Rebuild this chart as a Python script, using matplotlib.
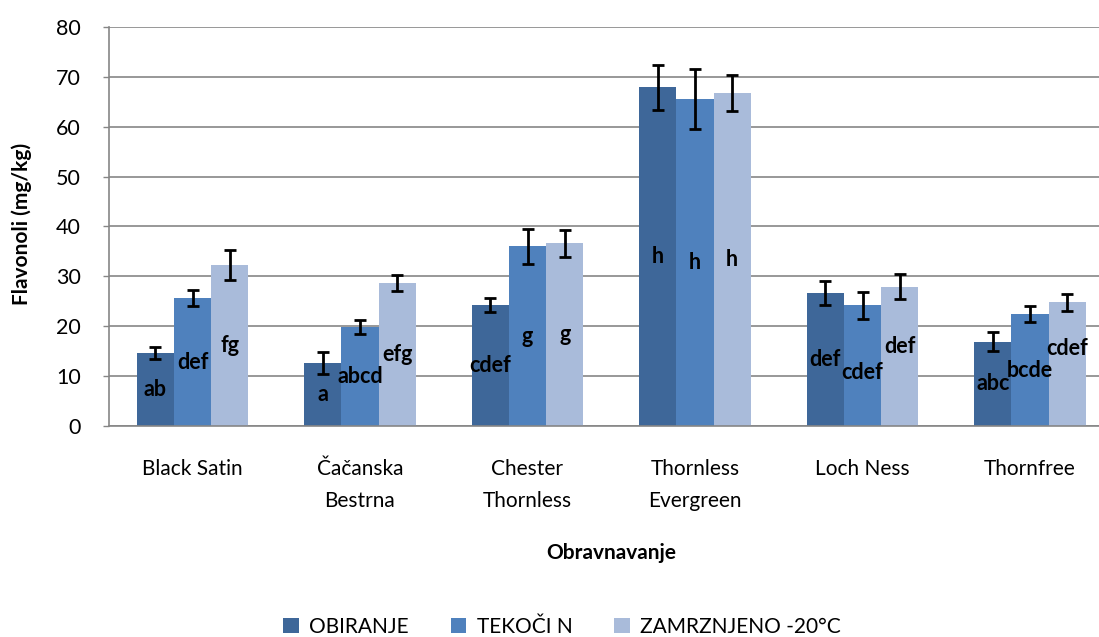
import numpy as np
import matplotlib
matplotlib.use("Agg")
import matplotlib.pyplot as plt
from matplotlib.patches import Patch

plt.rcParams['font.family'] = ['Lato', 'DejaVu Sans']

categories = ["Black Satin", "Čačanska\nBestrna", "Chester\nThornless",
              "Thornless\nEvergreen", "Loch Ness", "Thornfree"]
series = ["OBIRANJE", "TEKOČI N", "ZAMRZNJENO -20°C"]

obiranje = [14.6, 12.6, 24.2, 67.9, 26.6, 16.9]
tekoci = [25.6, 19.8, 36.0, 65.6, 24.2, 22.4]
zamrz = [32.3, 28.6, 36.6, 66.8, 27.9, 24.8]

obiranje_err = [1.2, 2.2, 1.4, 4.5, 2.4, 1.9]
tekoci_err = [1.6, 1.4, 3.5, 6.0, 2.7, 1.6]
zamrz_err = [3.0, 1.6, 2.7, 3.6, 2.5, 1.75]

obiranje_lbl = ["ab", "a", "cdef", "h", "def", "abc"]
tekoci_lbl = ["def", "abcd", "g", "h", "cdef", "bcde"]
zamrz_lbl = ["fg", "efg", "g", "h", "def", "cdef"]

colors = ["#3E6799", "#4F81BD", "#A9BBDA"]

W, H = 1099, 637
fig = plt.figure(figsize=(W / 100, H / 100), dpi=100)
# plot area runs a little past the right edge of the canvas
ax = fig.add_axes([108.75 / W, 211 / H, 1005 / W, 399 / H])

x = np.arange(len(categories))
bw = 1 / 4.5  # three bars plus a 150% gap per category
values = [obiranje, tekoci, zamrz]
errs = [obiranje_err, tekoci_err, zamrz_err]
labels = [obiranje_lbl, tekoci_lbl, zamrz_lbl]
# nudge (in data units) for letter labels that would collide with a neighbour
nudges = [[0, 0, 0, 0, 0, 0],
          [0, 0, 0, 0, -1.4, 0],
          [0, 0, 0, 0, 2.0, 3.2]]

for i, (vals, err, lbl, nd) in enumerate(zip(values, errs, labels, nudges)):
    pos = x + (i - 1) * bw
    ax.bar(pos, vals, width=bw, color=colors[i], zorder=2)
    ax.errorbar(pos, vals, yerr=err, fmt="none", ecolor="black",
                elinewidth=2.0, capsize=4.3, capthick=2.0, zorder=3)
    for p, v, t, d in zip(pos, vals, lbl, nd):
        ax.text(p, v / 2 + d, t, ha="center", va="center", fontsize=15.5,
                fontweight="bold", color="black", zorder=4)

ax.set_xlim(-0.5, len(categories) - 0.5)
ax.set_ylim(0, 80)
ax.set_yticks(np.arange(0, 81, 10))
ax.yaxis.grid(True, color="#868686", linewidth=1.2, zorder=0)
ax.set_axisbelow(True)

ax.set_xticks(x)
ax.set_xticklabels(categories, fontsize=15, linespacing=1.7)
ax.tick_params(axis="x", length=0, pad=24)
ax.tick_params(axis="y", labelsize=15.5, length=4, width=1, color="#868686", pad=16)

for s in ["top", "right"]:
    ax.spines[s].set_visible(False)
for s in ["left", "bottom"]:
    ax.spines[s].set_color("#868686")
    ax.spines[s].set_linewidth(1.2)

fig.text(22 / W, 1 - 224 / H, "Flavonoli (mg/kg)", rotation=90, ha="center",
         va="center", fontsize=15, fontweight="bold")
fig.text(611 / W, 1 - 553 / H, "Obravnavanje", ha="center", va="center",
         fontsize=15, fontweight="bold")

handles = [Patch(facecolor=c, label=s) for c, s in zip(colors, series)]
fig.legend(handles=handles, loc="center", bbox_to_anchor=(562 / W, 1 - 627 / H),
           ncol=3, frameon=False, fontsize=15, handlelength=0.75, handleheight=0.75,
           handletextpad=0.5, columnspacing=2.0)

fig.savefig("out.png", dpi=100)
